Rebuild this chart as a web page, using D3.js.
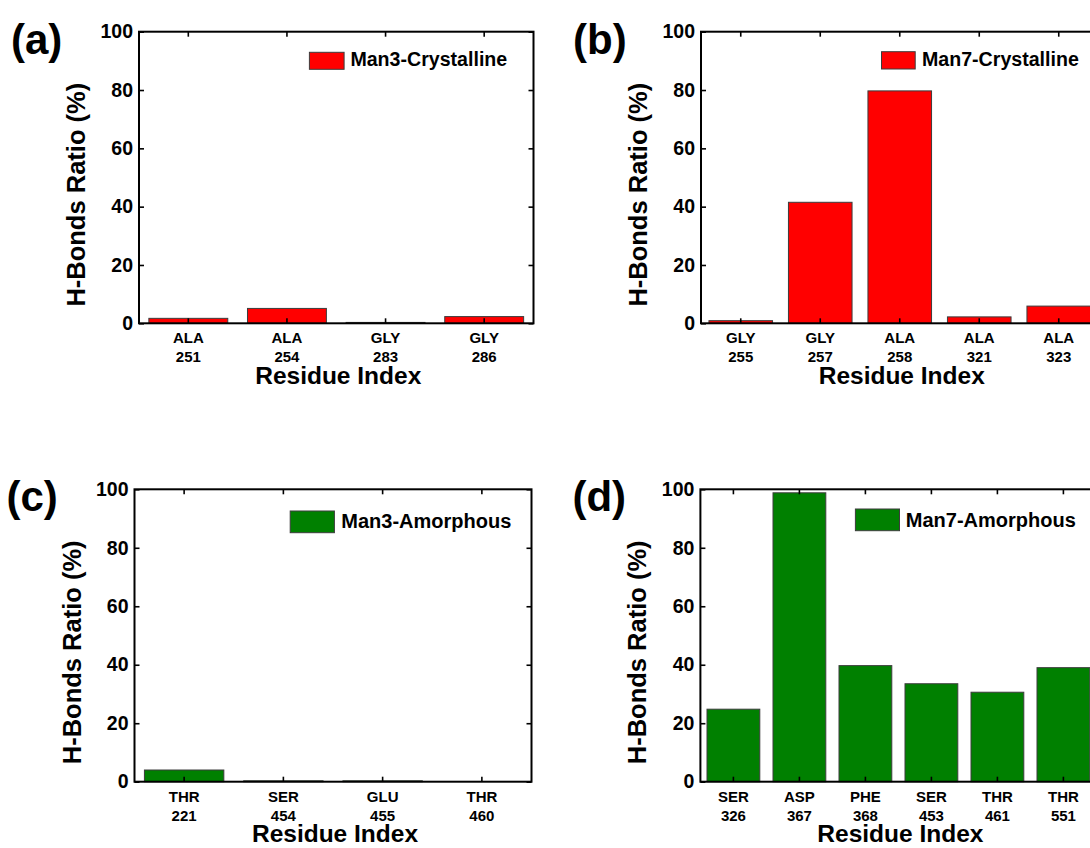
<!DOCTYPE html>
<html>
<head>
<meta charset="utf-8">
<script src="https://cdn.jsdelivr.net/npm/d3@7"></script>
<style>
html, body { margin:0; padding:0; background:#fff; overflow:hidden; }
svg { display:block; font-family:"Liberation Sans", Arial, sans-serif; font-weight:bold; }
</style>
</head>
<body>
<svg id="fig" width="1090" height="848"></svg>
<script>
// residue name, residue number and H-bond ratio (%) for each panel
var resNameA = ["ALA", "ALA", "GLY", "GLY"],
    resNumA  = ["251", "254", "283", "286"],
    ratioA   = [1.7, 5.1, 0.3, 2.3];

var resNameB = ["GLY", "GLY", "ALA", "ALA", "ALA"],
    resNumB  = ["255", "257", "258", "321", "323"],
    ratioB   = [0.9, 41.5, 79.7, 2.2, 5.9];

var resNameC = ["THR", "SER", "GLU", "THR"],
    resNumC  = ["221", "454", "455", "460"],
    ratioC   = [4.0, 0.3, 0.3, 0];

var resNameD = ["SER", "ASP", "PHE", "SER", "THR", "THR"],
    resNumD  = ["326", "367", "368", "453", "461", "551"],
    ratioD   = [24.8, 98.8, 39.7, 33.5, 30.6, 39.0];

var yTicks = [0, 20, 40, 60, 80, 100];
var yTitle = "H-Bonds Ratio (%)",
    xTitle = "Residue Index";

var svg = d3.select("#fig");

function panel(p) {
    var g = svg.append("g")
        .attr("transform", "translate(" + p.left + "," + p.top + ")");

    var idx = d3.range(p.names.length);
    var x = d3.scaleBand().domain(idx).range([0, p.w]).paddingInner(0.2).paddingOuter(0.1);
    var y = d3.scaleLinear().domain([0, 100]).range([p.h, 0]);

    // bars
    g.selectAll("rect.bar")
        .data(p.values)
        .enter().append("rect")
        .attr("class", "bar")
        .attr("x", function(d, i) { return x(i); })
        .attr("y", function(d) { return y(d); })
        .attr("width", x.bandwidth())
        .attr("height", function(d) { return p.h - y(d); })
        .attr("fill", p.color)
        .attr("stroke", "#3c3c3c")
        .attr("stroke-width", 1);

    // axes, ticks pointing inward
    var yl = g.append("g").call(d3.axisLeft(y).tickValues(yTicks).tickSizeInner(-5).tickSizeOuter(0).tickPadding(6));
    var yr = g.append("g").attr("transform", "translate(" + p.w + ",0)")
        .call(d3.axisRight(y).tickValues(yTicks).tickSizeInner(-5).tickSizeOuter(0).tickFormat(""));
    var xb = g.append("g").attr("transform", "translate(0," + p.h + ")")
        .call(d3.axisBottom(x).tickSizeInner(-5).tickSizeOuter(0).tickFormat(""));
    var xt = g.append("g")
        .call(d3.axisTop(x).tickSizeInner(-5).tickSizeOuter(0).tickFormat(""));

    [yl, yr, xb, xt].forEach(function(a) {
        a.select(".domain").remove();
        a.selectAll(".tick line").attr("stroke", "#000").attr("stroke-width", 1.6);
        a.attr("font-family", null).attr("font-size", null);
    });
    yl.selectAll(".tick text").attr("font-size", 19.5).attr("fill", "#000");

    // two-line residue labels
    xb.selectAll(".tick").each(function(i) {
        var t = d3.select(this).append("text")
            .attr("text-anchor", "middle")
            .attr("font-size", 15)
            .attr("fill", "#000");
        t.append("tspan").attr("x", 0).attr("y", 20).text(p.names[i]);
        t.append("tspan").attr("x", 0).attr("y", 39).text(p.nums[i]);
    });

    // frame
    g.append("rect")
        .attr("width", p.w).attr("height", p.h)
        .attr("fill", "none").attr("stroke", "#000").attr("stroke-width", 2);

    // titles
    g.append("text")
        .attr("transform", "translate(-54," + 163 + ") rotate(-90)")
        .attr("text-anchor", "middle")
        .attr("font-size", 25.5)
        .text(yTitle);
    g.append("text")
        .attr("x", p.w / 2 + 2).attr("y", p.h + 60.5)
        .attr("text-anchor", "middle")
        .attr("font-size", 24.5)
        .text(xTitle);

    // panel letter
    g.append("text")
        .attr("x", -128).attr("y", 22)
        .attr("font-size", 42)
        .text(p.letter);

    // legend
    g.append("rect")
        .attr("x", p.lg[0]).attr("y", p.lg[1])
        .attr("width", p.lg[2]).attr("height", p.lg[3])
        .attr("fill", p.color).attr("stroke", "#3c3c3c").attr("stroke-width", 1);
    g.append("text")
        .attr("x", p.lg[4]).attr("y", p.lg[5])
        .attr("font-size", p.lg[6])
        .text(p.label);
}

panel({left: 139, top: 31.7, w: 394.5, h: 291.6, names: resNameA, nums: resNumA, values: ratioA,
       color: "#ff0000", label: "Man3-Crystalline", letter: "(a)", lg: [170.4, 20.6, 34.7, 17, 211.4, 34, 19.6]});
panel({left: 701, top: 31.7, w: 397.5, h: 291.6, names: resNameB, nums: resNumB, values: ratioB,
       color: "#ff0000", label: "Man7-Crystalline", letter: "(b)", lg: [180.5, 20, 33.7, 17.3, 221, 34, 19.6]});
panel({left: 134.5, top: 489.3, w: 397, h: 292.4, names: resNameC, nums: resNumC, values: ratioC,
       color: "#008000", label: "Man3-Amorphous", letter: "(c)", lg: [155.7, 21.7, 44.2, 21.7, 206.8, 39, 20]});
panel({left: 700.4, top: 489.3, w: 396, h: 292.4, names: resNameD, nums: resNumD, values: ratioD,
       color: "#008000", label: "Man7-Amorphous", letter: "(d)", lg: [155, 19.7, 44.1, 21.7, 205.4, 37.4, 20]});
</script>
</body>
</html>
